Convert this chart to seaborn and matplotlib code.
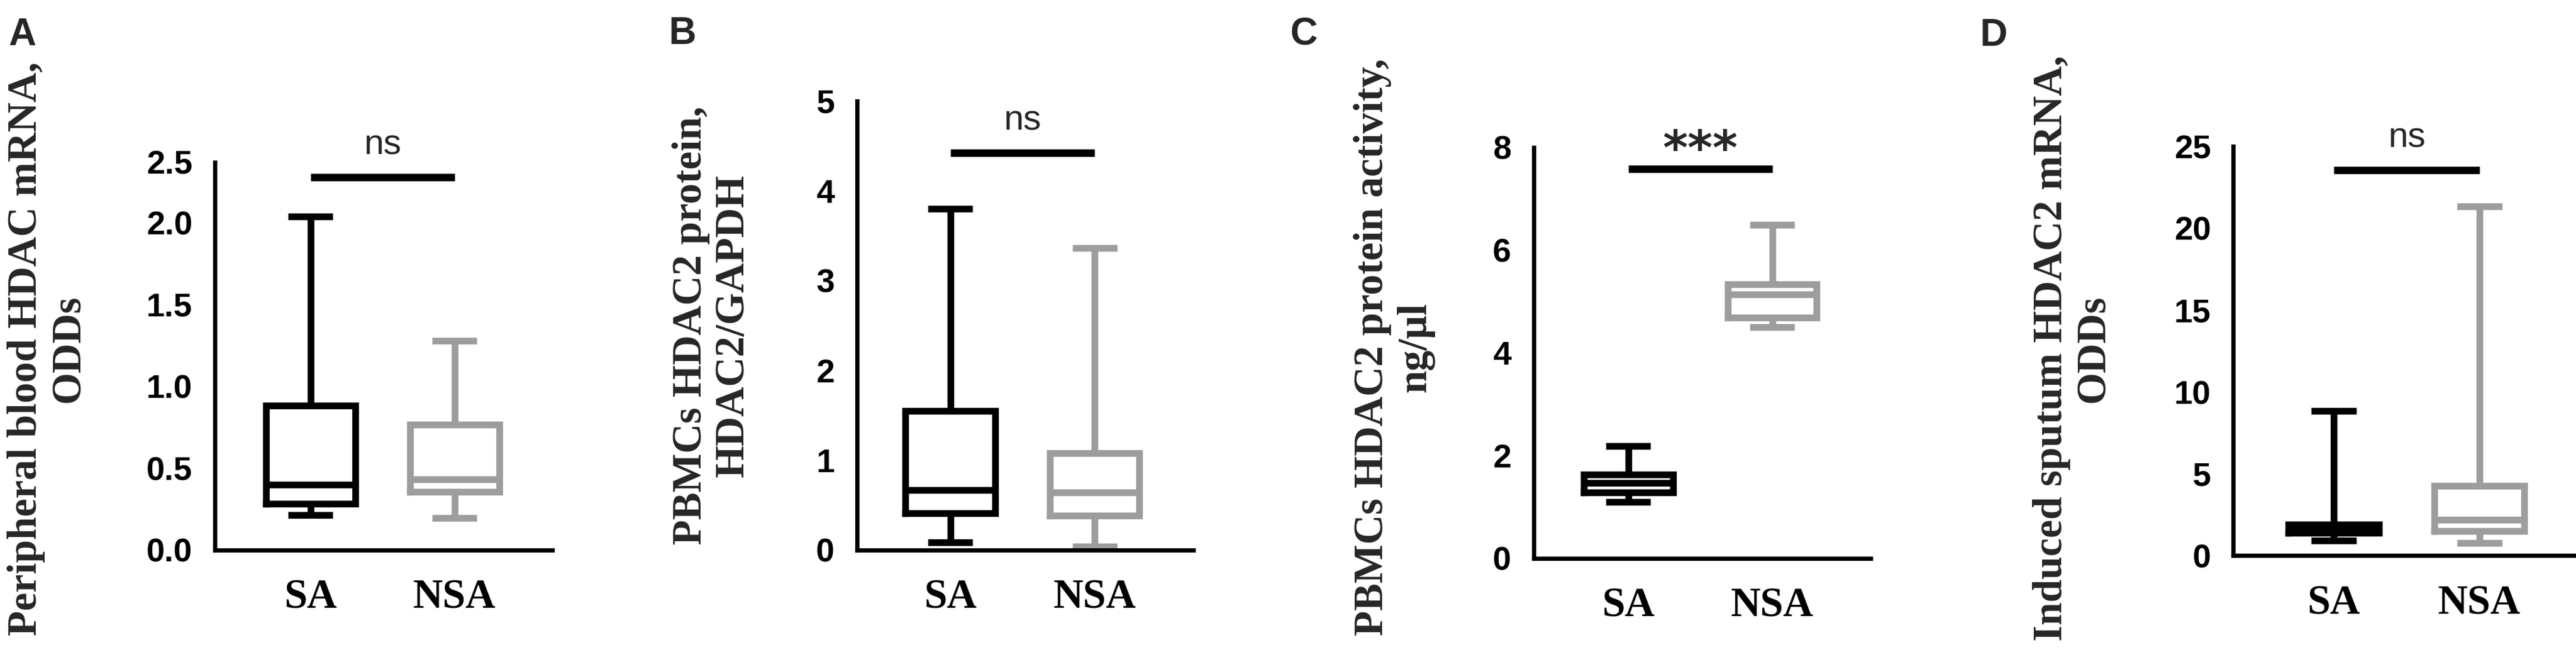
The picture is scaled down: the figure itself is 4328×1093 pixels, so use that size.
import numpy as np
import pandas as pd
import matplotlib
matplotlib.use("Agg")
import matplotlib.pyplot as plt
import seaborn as sns

# ---------------- data ----------------
groups = ["SA", "NSA"]
# five-number summaries: min, Q1, median, Q3, max (min-to-max whiskers)
a_sa = [0.214, 0.283, 0.397, 0.883, 2.051]
a_nsa = [0.194, 0.356, 0.430, 0.766, 1.277]
b_sa = [0.083, 0.41, 0.67, 1.55, 3.80]
b_nsa = [0.037, 0.38, 0.64, 1.08, 3.36]
c_sa = [1.10, 1.28, 1.46, 1.63, 2.18]
c_nsa = [4.50, 4.69, 5.14, 5.33, 6.49]
d_sa = [0.92, 1.39, 1.62, 1.89, 8.86]
d_nsa = [0.79, 1.51, 2.19, 4.26, 21.33]

panel_letters = ["A", "B", "C", "D"]
ylabels = [
    "Peripheral blood HDAC mRNA,\nODDs",
    "PBMCs HDAC2 protein,\nHDAC2/GAPDH",
    "PBMCs HDAC2 protein activity,\nng/\u03bcl",
    "Induced sputum HDAC2 mRNA,\nODDs",
]
yticks_a = [0.0, 0.5, 1.0, 1.5, 2.0, 2.5]
yticks_b = [0, 1, 2, 3, 4, 5]
yticks_c = [0, 2, 4, 6, 8]
yticks_d = [0, 5, 10, 15, 20, 25]
ytick_fmt = ["{:.1f}", "{:d}", "{:d}", "{:d}"]
sig_labels = ["ns", "ns", "***", "ns"]
sig_heights = [2.375, 4.42, 7.58, 23.56]

# ---------------- style ----------------
sns.set_style("white")
plt.rcParams["font.family"] = ["Liberation Sans", "DejaVu Sans"]

W, H = 4328, 1093
BLACK = "#000000"
GRAY = "#9d9d9f"

# layout in pixels: spine x, x-axis right end, y of zero, y of top, x of SA tick, x of NSA tick
layout = [
    dict(left=360.5, right=927.5, y0=924.7, top=272.7, sa=521.6, nsa=763.6),
    dict(left=1439.6, right=2004.5, y0=924.7, top=169.5, sa=1596.5, nsa=1839.2),
    dict(left=2576.6, right=3142.8, y0=938.6, top=247.6, sa=2735.6, nsa=2977.5),
    dict(left=3752.1, right=4328.0, y0=934.4, top=246.2, sa=3920.8, nsa=4165.6),
]
letter_pos = [(14, 29), (1124, 27), (2167, 28), (3327, 30)]
ylabel_pos = [(80, 586), (1196.5, 547), (2342, 584), (3482.5, 586)]

fig = plt.figure(figsize=(W / 100, H / 100), dpi=100)

datasets = [(a_sa, a_nsa), (b_sa, b_nsa), (c_sa, c_nsa), (d_sa, d_nsa)]
yticks_all = [yticks_a, yticks_b, yticks_c, yticks_d]

RATIO = 0.736  # compressed top segment of panel A axis


def fwd(y):
    y = np.asarray(y, dtype=float)
    return np.where(y <= 2, y, 2 + (y - 2) * RATIO)


def inv(f):
    f = np.asarray(f, dtype=float)
    return np.where(f <= 2, f, 2 + (f - 2) / RATIO)


for i, (sa, nsa) in enumerate(datasets):
    L = layout[i]
    ax = fig.add_axes([
        L["left"] / W,
        1 - L["y0"] / H,
        (L["right"] - L["left"]) / W,
        (L["y0"] - L["top"]) / H,
    ])
    df = pd.DataFrame({
        "group": ["SA"] * len(sa) + ["NSA"] * len(nsa),
        "value": sa + nsa,
    })
    sns.boxplot(
        data=df, x="group", y="value", hue="group",
        order=groups, hue_order=groups, palette=[BLACK, GRAY],
        fill=False, width=0.62, whis=(0, 100), linewidth=8.2,
        saturation=1, legend=False, ax=ax,
    )
    for ln in ax.lines:
        if len(ln.get_xdata()) == 5:
            ln.set_solid_joinstyle("miter")
            ln.set_solid_capstyle("projecting")
        else:
            ln.set_solid_capstyle("butt")

    # x limits from pixel layout
    sp = L["nsa"] - L["sa"]
    ax.set_xlim((L["left"] - L["sa"]) / sp, (L["right"] - L["sa"]) / sp)

    yt = yticks_all[i]
    if i == 0:
        ax.set_yscale("function", functions=(fwd, inv))
    ax.set_ylim(yt[0], yt[-1])
    ax.set_yticks(yt, labels=[ytick_fmt[i].format(v) for v in yt],
                  fontsize=40, fontweight="bold", family="Liberation Sans")
    ax.set_xticks([0, 1], labels=groups, fontsize=50, fontweight="bold",
                  family="Liberation Serif")
    ax.minorticks_off()
    ax.set_xlabel("")
    ax.set_ylabel("")

    for s in ["top", "right"]:
        ax.spines[s].set_visible(False)
    for s in ["left", "bottom"]:
        ax.spines[s].set_linewidth(5.2)
        ax.spines[s].set_color(BLACK)
        ax.spines[s].set_capstyle("projecting")
    ax.tick_params(axis="y", direction="out", length=21, width=5.2, pad=6,
                   color=BLACK, labelcolor=BLACK)
    ax.tick_params(axis="x", direction="out", length=23, width=5.2, pad=12,
                   color=BLACK, labelcolor=BLACK)
    ax.set_facecolor("white")

    # significance bar
    ax.plot([0, 1], [sig_heights[i], sig_heights[i]], color=BLACK, lw=9,
            solid_capstyle="butt", clip_on=False)
    if sig_labels[i] == "***":
        ax.annotate(sig_labels[i], xy=(0.5, sig_heights[i]), xytext=(0, 6),
                    textcoords="offset points", ha="center", va="baseline",
                    fontsize=58, fontweight="bold", family="DejaVu Sans",
                    annotation_clip=False)
    else:
        ax.annotate(sig_labels[i], xy=(0.5, sig_heights[i]), xytext=(0, 27.7),
                    textcoords="offset points", ha="center", va="baseline",
                    fontsize=43, family="Liberation Sans",
                    annotation_clip=False)

    # panel letter and y label
    lx, ly = letter_pos[i]
    fig.text(lx / W, 1 - ly / H, panel_letters[i], ha="left", va="top",
             fontsize=46, fontweight="bold", family="Liberation Sans")
    yx, yy = ylabel_pos[i]
    fig.text(yx / W, 1 - yy / H, ylabels[i], rotation=90, ha="center",
             va="center", multialignment="center", fontsize=50,
             fontweight="bold", family="Liberation Serif", linespacing=1.15)

fig.savefig("out.png", dpi=100, facecolor="white")
